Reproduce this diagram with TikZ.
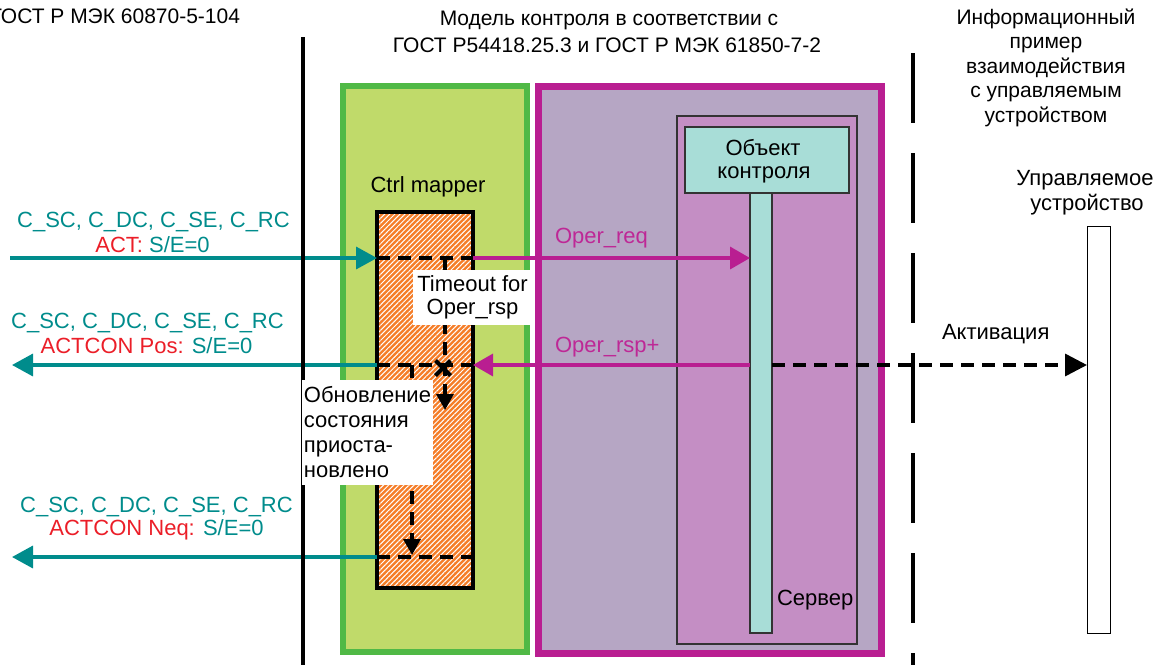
\documentclass[tikz,border=0pt]{standalone}
\usepackage{fontspec}
\setmainfont{Liberation Sans}
\usetikzlibrary{arrows.meta,patterns.meta,shapes.misc}
\definecolor{tealc}{RGB}{0,140,140}
\definecolor{magc}{RGB}{185,30,145}
\definecolor{magt}{RGB}{190,40,150}
\definecolor{grnb}{RGB}{80,185,70}
\definecolor{grnf}{RGB}{192,218,106}
\definecolor{purf}{RGB}{182,166,196}
\definecolor{serf}{RGB}{196,142,196}
\definecolor{cyanf}{RGB}{168,221,215}
\definecolor{orng}{RGB}{245,125,40}
\definecolor{redt}{RGB}{235,30,40}
\begin{document}
\begin{tikzpicture}[x=1pt,y=-1pt,
  every node/.style={inner sep=0pt, outer sep=0pt},
  lbl/.style={font=\fontsize{22}{25}\selectfont, anchor=base},
  ttl/.style={font=\fontsize{21}{25}\selectfont, anchor=base},
  tealline/.style={draw=tealc, line width=3.5pt},
  tealarrow/.style={tealline, -{Triangle[length=21pt,width=22pt]}},
  magarrow/.style={draw=magc, line width=3.5pt, -{Triangle[length=20pt,width=22pt]}},
  dashline/.style={draw=black, line width=3.5pt, dash pattern=on 13pt off 8pt},
  smallhead/.style={-{Triangle[length=16pt,width=17pt]}},
]
\useasboundingbox (0,0) rectangle (1169,665);

% titles
\node[ttl, anchor=base east] (t1) at (240,23) {ГОСТ Р МЭК 60870-5-104};
\node[ttl] (t2) at (609,25) {Модель контроля в соответствии с};
\node[ttl] (t3) at (607,52) {ГОСТ Р54418.25.3 и ГОСТ Р МЭК 61850-7-2};
\node[ttl] (t4) at (1046,24) {Информационный};
\node[ttl] (t5) at (1046,48) {пример};
\node[ttl] (t6) at (1046,73) {взаимодействия};
\node[ttl] (t7) at (1046,97) {с управляемым};
\node[ttl] (t8) at (1046,122) {устройством};

% boxes
\node[draw=grnb, fill=grnf, line width=6pt, minimum width=184pt, minimum height=566pt] (ctrl) at (435,369) {};
\node[draw=magc, fill=purf, line width=7pt, minimum width=343pt, minimum height=567pt] (model) at (710,370) {};
\node[draw=black!80, fill=serf, line width=1.2pt, minimum width=180pt, minimum height=528pt] (server) at (767,380) {};
\node[draw=black!80, fill=cyanf, line width=1.5pt, minimum width=164pt, minimum height=66pt] (obj) at (767,160) {};
\node[draw=black!80, fill=cyanf, line width=1.2pt, minimum width=22pt, minimum height=440pt] (life) at (761,413) {};
\node[draw=black, fill=white, line width=1pt, minimum width=23pt, minimum height=407pt] (dev) at (1098.5,429.5) {};
\node[draw=black, line width=4pt, preaction={fill=orng}, pattern={Lines[angle=45,distance=3.6pt,line width=1pt]}, pattern color=white, minimum width=96pt, minimum height=376pt] (om) at (425,400) {};

% box texts
\node[lbl] (ctrltxt) at (428,192) {Ctrl mapper};
\node[lbl] (objt1) at (763,155) {Объект};
\node[lbl] (objt2) at (764,178) {контроля};
\node[lbl, anchor=base west] (sert) at (777,605) {Сервер};
\node[lbl] (devt1) at (1085,185) {Управляемое};
\node[lbl] (devt2) at (1087,210) {устройство};

% row coordinates
\coordinate (r1) at (10,258);
\coordinate (r2) at (12,365);
\coordinate (r3) at (12,557);

% teal messages
\draw[tealarrow] (r1) -- (om.west |- r1);
\draw[tealarrow] (om.west |- r2) -- (r2);
\draw[tealarrow] (om.west |- r3) -- (r3);

% vertical separators
\coordinate (v1t) at (303,37);
\coordinate (v1b) at (303,665);
\draw[line width=3.5pt] (v1t) -- (v1b);
\coordinate (v2t) at (913,53);
\coordinate (v2b) at (913,665);
\draw[line width=3.5pt, dash pattern=on 70pt off 30pt] (v2t) -- (v2b);

% dashed rows inside mapper
\draw[dashline] (om.west |- r1) -- (om.east |- r1);
\draw[dashline] (om.west |- r2) -- (om.east |- r2);
\draw[dashline] (om.west |- r3) -- (om.east |- r3);

% magenta messages
\draw[magarrow] (om.east |- r1) -- (life.west |- r1);
\draw[magarrow] (life.west |- r2) -- (om.east |- r2);
\draw[dashline, -{Triangle[length=22pt,width=22pt]}] (life.east |- r2) -- (dev.west |- r2);

% timers
\coordinate (to1) at (445,258);
\coordinate (to2) at (445,410);
\draw[dashline, smallhead] (to1) -- (to2);
\node[cross out, draw=black, line width=4pt, minimum size=15pt] (xm) at (443,368) {};
\coordinate (u1) at (412,365);
\coordinate (u2) at (412,555);
\draw[dashline, smallhead] (u1) -- (u2);

% white labels
\node[fill=white, minimum width=119pt, minimum height=55pt, align=center, font=\fontsize{22}{23}\selectfont] (tbox) at (472.5,297.5) {Timeout for\\Oper\_rsp};
\node[fill=white, minimum width=125pt, minimum height=105pt, inner xsep=2pt, align=left, font=\fontsize{22}{25}\selectfont] (obox) at (367.5,432.5) {Обновление\\состояния\\приоста-\\новлено};

% message labels
\node[lbl, text=tealc] (m1a) at (153.5,227) {C\_SC, C\_DC, C\_SE, C\_RC};
\node[lbl, text=tealc] (m1b) at (152.5,252) {\textcolor{redt}{ACT:} S/E=0};
\node[lbl, text=tealc] (m2a) at (147.5,328) {C\_SC, C\_DC, C\_SE, C\_RC};
\node[lbl, text=tealc] (m2b) at (146.5,353) {\textcolor{redt}{ACTCON Pos:} S/E=0};
\node[lbl, text=tealc] (m3a) at (156.5,512) {C\_SC, C\_DC, C\_SE, C\_RC};
\node[lbl, text=tealc] (m3b) at (156.5,535) {\textcolor{redt}{ACTCON Neq:} S/E=0};
\node[lbl, anchor=base west, text=magt] (oreq) at (555,243) {Oper\_req};
\node[lbl, anchor=base west, text=magt] (orsp) at (555,352) {Oper\_rsp+};
\node[lbl, anchor=base west] (act) at (942,339) {Активация};
\end{tikzpicture}
\end{document}
